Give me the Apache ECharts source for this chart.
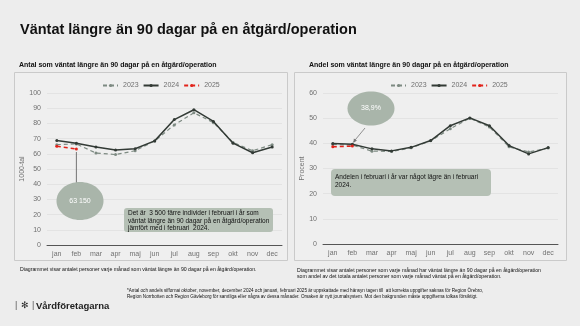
<!DOCTYPE html>
<html><head><meta charset="utf-8">
<script src="https://cdn.jsdelivr.net/npm/echarts@6/dist/echarts.min.js"></script>
<style>html,body{margin:0;padding:0;background:#ededed}#c{width:580px;height:326px}</style>
</head><body><div id="c"></div>
<script>
var months = ['jan','feb','mar','apr','maj','jun','jul','aug','sep','okt','nov','dec'];
var antal2023 = [66, 66.5, 60.5, 59.5, 62, 68.5, 79, 87, 80.5, 67.5, 62, 66];
var antal2024 = [68.7, 67, 64.5, 62.5, 63.3, 68.5, 82.5, 89, 81.3, 67, 60.7, 64.5];
var antal2025 = [65, 63.15];
var andel2023 = [39.5, 39.3, 36.9, 36.8, 38.2, 41, 45.8, 50, 46.5, 38.6, 36.6, 38.1];
var andel2024 = [39.9, 39.6, 37.8, 37.0, 38.4, 41.1, 47, 50.1, 47, 39.1, 35.8, 38.3];
var andel2025 = [38.6, 38.9];
var leftTicks = [0,100,10];
var rightTicks = [0,60,10];

var FF = 'Liberation Sans, Arial, sans-serif';
var cDark = '#323a35', cGray = '#7d8a82', cRed = '#e2231a';
var chart = echarts.init(document.getElementById('c'), null, {renderer:'canvas'});

function mkSeries(name, data, color, dashed, xi, w){
  return {name:name, type:'line', xAxisIndex:xi, yAxisIndex:xi, data:data,
    symbol:'circle', symbolSize:3, showSymbol:true, silent:true,
    lineStyle:{color:color, width:w, type: dashed ? [4,3] : 'solid'},
    itemStyle:{color:color}, z: name==='2025'?5:(name==='2024'?4:3), animation:false};
}
var axisLabel = {color:'#707070', fontSize:7, fontFamily:FF};
function yAx(t, gi, name, gap){
  return {type:'value', gridIndex:gi, min:t[0], max:t[1], interval:t[2],
    axisLine:{show:false}, axisTick:{show:false},
    splitLine:{lineStyle:{color:'#e0e0e0', width:0.8}},
    axisLabel:Object.assign({margin:6}, axisLabel),
    name:name, nameLocation:'middle', nameRotate:90, nameGap:gap,
    nameTextStyle:{color:'#707070', fontSize:7, fontFamily:FF}};
}
function xAx(gi){
  return {type:'category', gridIndex:gi, data:months, boundaryGap:true,
    axisLine:{lineStyle:{color:'#555', width:1}}, axisTick:{show:false},
    axisLabel:Object.assign({margin:6}, axisLabel)};
}
var legendCommon = {itemWidth:15, itemHeight:4, itemGap:4, textStyle:{color:'#707070', fontSize:7, fontFamily:FF}, selectedMode:false, data:['2023','2024','2025']};

var option = {
  backgroundColor:'#ededed',
  animation:false,
  grid:[{left:47, right:298, top:93, bottom:81},{left:323, right:22, top:93, bottom:82}],
  xAxis:[xAx(0), xAx(1)],
  yAxis:[yAx(leftTicks,0,'1000-tal',20), yAx(rightTicks,1,'Procent',16)],
  legend:[
    Object.assign({left:97, top:77}, legendCommon),
    Object.assign({left:385, top:77}, legendCommon)
  ],
  series:[
    mkSeries('2023', antal2023, cGray, true, 0, 1.2),
    mkSeries('2024', antal2024, cDark, false, 0, 1.5),
    mkSeries('2025', antal2025, cRed, true, 0, 1.5),
    mkSeries('2023', andel2023, cGray, true, 1, 1.2),
    mkSeries('2024', andel2024, cDark, false, 1, 1.5),
    mkSeries('2025', andel2025, cRed, true, 1, 1.5)
  ]
};
chart.setOption(option);

var pL = chart.convertToPixel({xAxisIndex:0, yAxisIndex:0}, ['feb', antal2025[1]]);
var pR = chart.convertToPixel({xAxisIndex:1, yAxisIndex:1}, ['feb', andel2025[1]]);

var txt = function(x,y,s,opt){return {type:'text', left:x, top:y, silent:true, style:Object.assign({text:s, font:'6px '+FF, fill:'#111'}, opt||{})};};

chart.setOption({graphic:[
  {type:'rect', shape:{x:14.5, y:72.5, width:273, height:188}, style:{fill:'#efefef', stroke:'#cacaca', lineWidth:1}, z:-10, silent:true},
  {type:'rect', shape:{x:294.5, y:72.5, width:272, height:188}, style:{fill:'#efefef', stroke:'#cacaca', lineWidth:1}, z:-10, silent:true},
  txt(20, 22, 'Väntat längre än 90 dagar på en åtgärd/operation', {font:'bold 14.5px '+FF, fill:'#111'}),
  txt(19, 62, 'Antal som väntat längre än 90 dagar på en åtgärd/operation', {font:'bold 7px '+FF}),
  txt(309, 62, 'Andel som väntat längre än 90 dagar på en åtgärd/operation', {font:'bold 7px '+FF}),
  // left annotation
  {type:'line', shape:{x1:pL[0], y1:pL[1]+3, x2:pL[0], y2:183}, style:{stroke:'#555', lineWidth:0.8}, silent:true},
  {type:'ellipse', shape:{cx:80, cy:201, rx:23.5, ry:19}, style:{fill:'#a9b5aa'}, silent:true},
  {type:'text', x:80, y:201, silent:true, style:{text:'63 150', font:'7px '+FF, fill:'#fff', textAlign:'center', textVerticalAlign:'middle'}},
  {type:'rect', shape:{x:124, y:208, width:149, height:24, r:3}, style:{fill:'#b5c0b5'}, silent:true},
  txt(128, 210, 'Det är  3 500 färre individer i februari i år som\nväntat längre än 90 dagar på en åtgärd/operation\njämfört med i februari  2024.', {font:'6.5px '+FF, lineHeight:7.3}),
  // right annotation
  {type:'ellipse', shape:{cx:371, cy:108.5, rx:23.5, ry:17}, style:{fill:'#a9b5aa'}, silent:true},
  {type:'text', x:371, y:108.5, silent:true, style:{text:'38,9%', font:'7px '+FF, fill:'#fff', textAlign:'center', textVerticalAlign:'middle'}},
  {type:'line', shape:{x1:365, y1:128, x2:pR[0]+1, y2:pR[1]-4}, style:{stroke:'#777', lineWidth:0.8}, silent:true},
  {type:'polygon', shape:{points:[[pR[0]+1, pR[1]-3],[pR[0]+1.5, pR[1]-7.5],[pR[0]+4.5, pR[1]-5.5]]}, style:{fill:'#777'}, silent:true},
  {type:'rect', shape:{x:331, y:169, width:160, height:27, r:4}, style:{fill:'#b5c0b5'}, silent:true},
  txt(335, 173, 'Andelen i februari i år var något lägre än i februari\n2024.', {font:'6.5px '+FF, lineHeight:8}),
  // footnotes
  txt(20, 267, 'Diagrammet visar antalet personer varje månad som väntat längre än 90 dagar på en åtgärd/operation.', {font:'5.2px '+FF}),
  txt(297, 267, 'Diagrammet visar antalet personer som varje månad har väntat längre än 90 dagar på en åtgärd/operation\nsom andel av det totala antalet personer som varje månad väntat på en åtgärd/operation.', {font:'5.2px '+FF, lineHeight:6.5}),
  txt(127, 287.5, '*Antal och andels siffornai oktober, november, december 2024 och januari, februari 2025 är uppskattade med hänsyn tagen till  att korrekta uppgifter saknas för Region Örebro,\nRegion Norrbotten och Region Gävleborg för samtliga eller några av dessa månader. Orsaken är nytt journalsystem. Mot den bakgrunden måste uppgifterna tolkas försiktigt.', {font:'4.6px '+FF, lineHeight:6.3}),
  txt(15, 301, '|', {font:'9px '+FF, fill:'#555'}),
  txt(21, 301, '✻', {font:'bold 9px DejaVu Sans', fill:'#222'}),
  txt(32, 301, '|', {font:'9px '+FF, fill:'#555'}),
  txt(36, 301, 'Vårdföretagarna', {font:'bold 9.5px '+FF, fill:'#222'})
]});
</script></body></html>
